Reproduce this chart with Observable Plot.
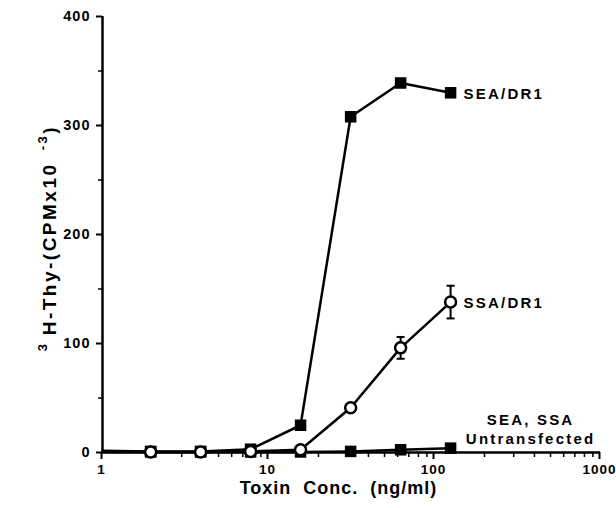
<!DOCTYPE html>
<html><head><meta charset="utf-8">
<script src="https://cdn.jsdelivr.net/npm/d3@7"></script>
<script src="https://cdn.jsdelivr.net/npm/@observablehq/plot@0.6"></script>
<style>body{margin:0;background:#fff}</style>
</head><body><div id="chart"></div>
<script>
// Data
const conc    = [1, 1.95, 3.9, 7.8, 15.6, 31.25, 62.5, 125];
const seaDR1  = [1.5, 1, 1, 3, 25, 308, 339, 330];
const ssaDR1  = [0.5, 0.5, 0.5, 1, 2.5, 41, 96, 138];
const ssaErr  = [0, 0, 0, 0, 0, 0, 10, 15];
const untrans = [1, 0.5, 0.5, 0.5, 0.5, 1, 2.5, 4];
const seriesNames = ["SEA/DR1", "SSA/DR1", "SEA, SSA\nUntransfected"];
const xTicks = [1, 10, 100, 1000];
const xMinor = [2,3,4,5,6,7,8,9,20,30,40,50,60,70,80,90,200,300,400,500,600,700,800,900];
const yTicks = [0, 100, 200, 300, 400];
const yMinor = [50, 150, 250, 350];
const xLabel = "Toxin  Conc.  (ng/ml)";

const rows = [];
conc.forEach((c, i) => {
  rows.push({series: "sea", x: c, y: seaDR1[i], e: 0, i});
  rows.push({series: "ssa", x: c, y: ssaDR1[i], e: ssaErr[i], i});
  rows.push({series: "un", x: c, y: untrans[i], e: 0, i});
});
const last = conc.length - 1;
const markerRows = rows.filter(d => d.i > 0);
const errRows = rows.filter(d => d.e > 0);
const labelRows = [
  {...rows.find(d => d.series === "sea" && d.i === last), text: seriesNames[0]},
  {...rows.find(d => d.series === "ssa" && d.i === last), text: seriesNames[1]},
  {...rows.find(d => d.series === "un" && d.i === last), text: seriesNames[2]}
];

const capSymbol = {draw(ctx, size) { const w = Math.sqrt(size); ctx.moveTo(-w/2, 0); ctx.lineTo(w/2, 0); }};
const font = "'Liberation Sans', Arial, Helvetica, sans-serif";

const chart = Plot.plot({
  width: 616, height: 508,
  marginLeft: 102, marginRight: 16, marginTop: 16, marginBottom: 56,
  style: {fontFamily: font, fontWeight: "bold", color: "#000", background: "#fff"},
  x: {type: "log", domain: [1, 1000]},
  y: {domain: [0, 400]},
  marks: [
    Plot.axisX(xTicks, {tickSize: 7, tickPadding: 5, strokeWidth: 2, fontSize: 13.5, fontWeight: "bold", tickFormat: d => String(d), label: null, dx: -1, className: "xmajor"}),
    Plot.axisX(xMinor, {tickSize: 5, strokeWidth: 1.5, tickFormat: () => "", label: null, className: "xminor"}),
    Plot.axisY(yTicks, {tickSize: 6, tickPadding: 6, strokeWidth: 2, fontSize: 14.5, fontWeight: "bold", tickFormat: d => String(d), label: null, className: "ymajor"}),
    Plot.axisY(yMinor, {tickSize: 4, strokeWidth: 1.5, tickFormat: () => "", label: null, className: "yminor"}),
    Plot.ruleY([0], {x1: 1, x2: 1000, stroke: "#000", strokeWidth: 2.5}),
    Plot.ruleX([1], {y1: 0, y2: 400, stroke: "#000", strokeWidth: 2.5}),
    Plot.line(rows, {x: "x", y: "y", z: "series", stroke: "#000", strokeWidth: 2.5}),
    Plot.ruleX(errRows, {x: "x", y1: d => d.y - d.e, y2: d => d.y + d.e, stroke: "#000", strokeWidth: 2}),
    Plot.dot(errRows, {x: "x", y: d => d.y - d.e, symbol: capSymbol, r: 4.5, stroke: "#000", strokeWidth: 2, fill: "none"}),
    Plot.dot(errRows, {x: "x", y: d => d.y + d.e, symbol: capSymbol, r: 4.5, stroke: "#000", strokeWidth: 2, fill: "none"}),
    Plot.dot(markerRows.filter(d => d.series !== "ssa"), {x: "x", y: "y", symbol: "square", r: 6.5, fill: "#000", stroke: "none"}),
    Plot.dot(markerRows.filter(d => d.series === "ssa"), {x: "x", y: "y", symbol: "circle", r: 5.5, fill: "#fff", stroke: "#000", strokeWidth: 2.5}),
    Plot.text(labelRows.slice(0, 2), {x: "x", y: "y", text: "text", textAnchor: "start", dx: 13, dy: 1, fontSize: 15, fontWeight: "bold", fill: "#000", className: "series-label"}),
    Plot.text(labelRows.slice(2), {x: "x", y: "y", text: "text", textAnchor: "middle", dx: 80, dy: -20, fontSize: 15, lineHeight: 1.27, fontWeight: "bold", fill: "#000", className: "series-label"}),
    Plot.text([xLabel], {frameAnchor: "bottom", text: d => d, dx: -13, dy: 41, fontSize: 18, fontWeight: "bold", fill: "#000", className: "x-label"})
  ]
});

const svg = d3.select(chart);
svg.selectAll(".xminor text, .yminor text").remove();
svg.selectAll(".xmajor text").attr("letter-spacing", "1px");
svg.selectAll(".ymajor text").attr("letter-spacing", "1px");
svg.selectAll(".series-label text").attr("letter-spacing", "2.2px");
svg.selectAll(".x-label text").attr("letter-spacing", "1px");

// Y-axis title with superscripts
const yl = svg.append("text")
  .attr("transform", "translate(56,238) rotate(-90)")
  .attr("text-anchor", "middle")
  .attr("font-family", font)
  .attr("font-weight", "bold")
  .attr("font-size", 19)
  .attr("letter-spacing", "2.5px")
  .attr("fill", "#000");
yl.append("tspan").attr("font-size", 13).attr("dy", -9).text("3 ");
yl.append("tspan").attr("dy", 9).text("H-Thy-(CPMx10");
yl.append("tspan").attr("font-size", 13).attr("dy", -9).text("  -3");
yl.append("tspan").attr("dy", 9).text(")");

document.getElementById("chart").appendChild(chart);
</script>
</body></html>
